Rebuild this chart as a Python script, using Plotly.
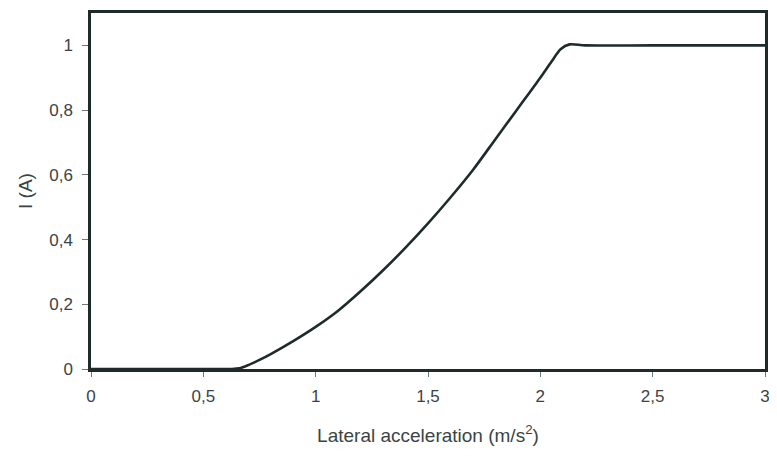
import plotly.graph_objects as go

# Lateral acceleration (m/s^2) and current I (A)
accel = [0.0, 0.3, 0.62, 0.66, 0.70, 0.75, 0.8, 0.9, 1.0, 1.1, 1.2, 1.3, 1.4, 1.5, 1.6, 1.7, 1.8, 1.9, 2.0, 2.05, 2.09, 2.13, 2.2, 2.5, 3.0]
current = [0.0, 0.0, 0.0, 0.002, 0.012, 0.028, 0.046, 0.086, 0.13, 0.18, 0.24, 0.305, 0.375, 0.45, 0.53, 0.615, 0.71, 0.805, 0.9, 0.95, 0.988, 1.003, 1.0, 1.0, 1.0]

x_ticks = [0, 0.5, 1, 1.5, 2, 2.5, 3]
x_ticklabels = ["0", "0,5", "1", "1,5", "2", "2,5", "3"]
y_ticks = [0, 0.2, 0.4, 0.6, 0.8, 1]
y_ticklabels = ["0", "0,2", "0,4", "0,6", "0,8", "1"]

line_col = "#1f2b2b"

fig = go.Figure()
fig.add_trace(go.Scatter(
    x=accel, y=current, mode="lines",
    line=dict(color=line_col, width=2.6, shape="spline", smoothing=0.8),
    showlegend=False, hoverinfo="skip",
))

font = dict(family="Liberation Sans, Arial, sans-serif", size=17, color="#3a4444")
title_font = dict(family="Liberation Sans, Arial, sans-serif", size=19, color="#3a4444")

# page body has an 8px margin, so the figure is made 8px smaller and margins shifted
fig.update_layout(
    width=769, height=448,
    margin=dict(l=83, r=12, t=2, b=87),
    paper_bgcolor="white", plot_bgcolor="white",
    font=font,
    xaxis=dict(
        range=[0, 3], tickvals=x_ticks, ticktext=x_ticklabels,
        showgrid=False, zeroline=False,
        showline=True, linecolor=line_col, linewidth=2.5, mirror=True,
        ticks="outside", ticklen=5, tickwidth=1, tickcolor="#6a7a7a",
        ticklabelstandoff=5, tickfont=font,
        title=dict(text="Lateral acceleration (m/s<sup>2</sup>)", standoff=24, font=title_font),
    ),
    yaxis=dict(
        range=[0, 1.1], tickvals=y_ticks, ticktext=y_ticklabels,
        showgrid=False, zeroline=False,
        showline=True, linecolor=line_col, linewidth=2.5, mirror=True,
        ticks="outside", ticklen=6, tickwidth=1, tickcolor="#6a7a7a",
        ticklabelstandoff=6, tickfont=font,
        title=dict(text="I (A)", standoff=12, font=title_font),
    ),
)

fig.write_html("out.html")
